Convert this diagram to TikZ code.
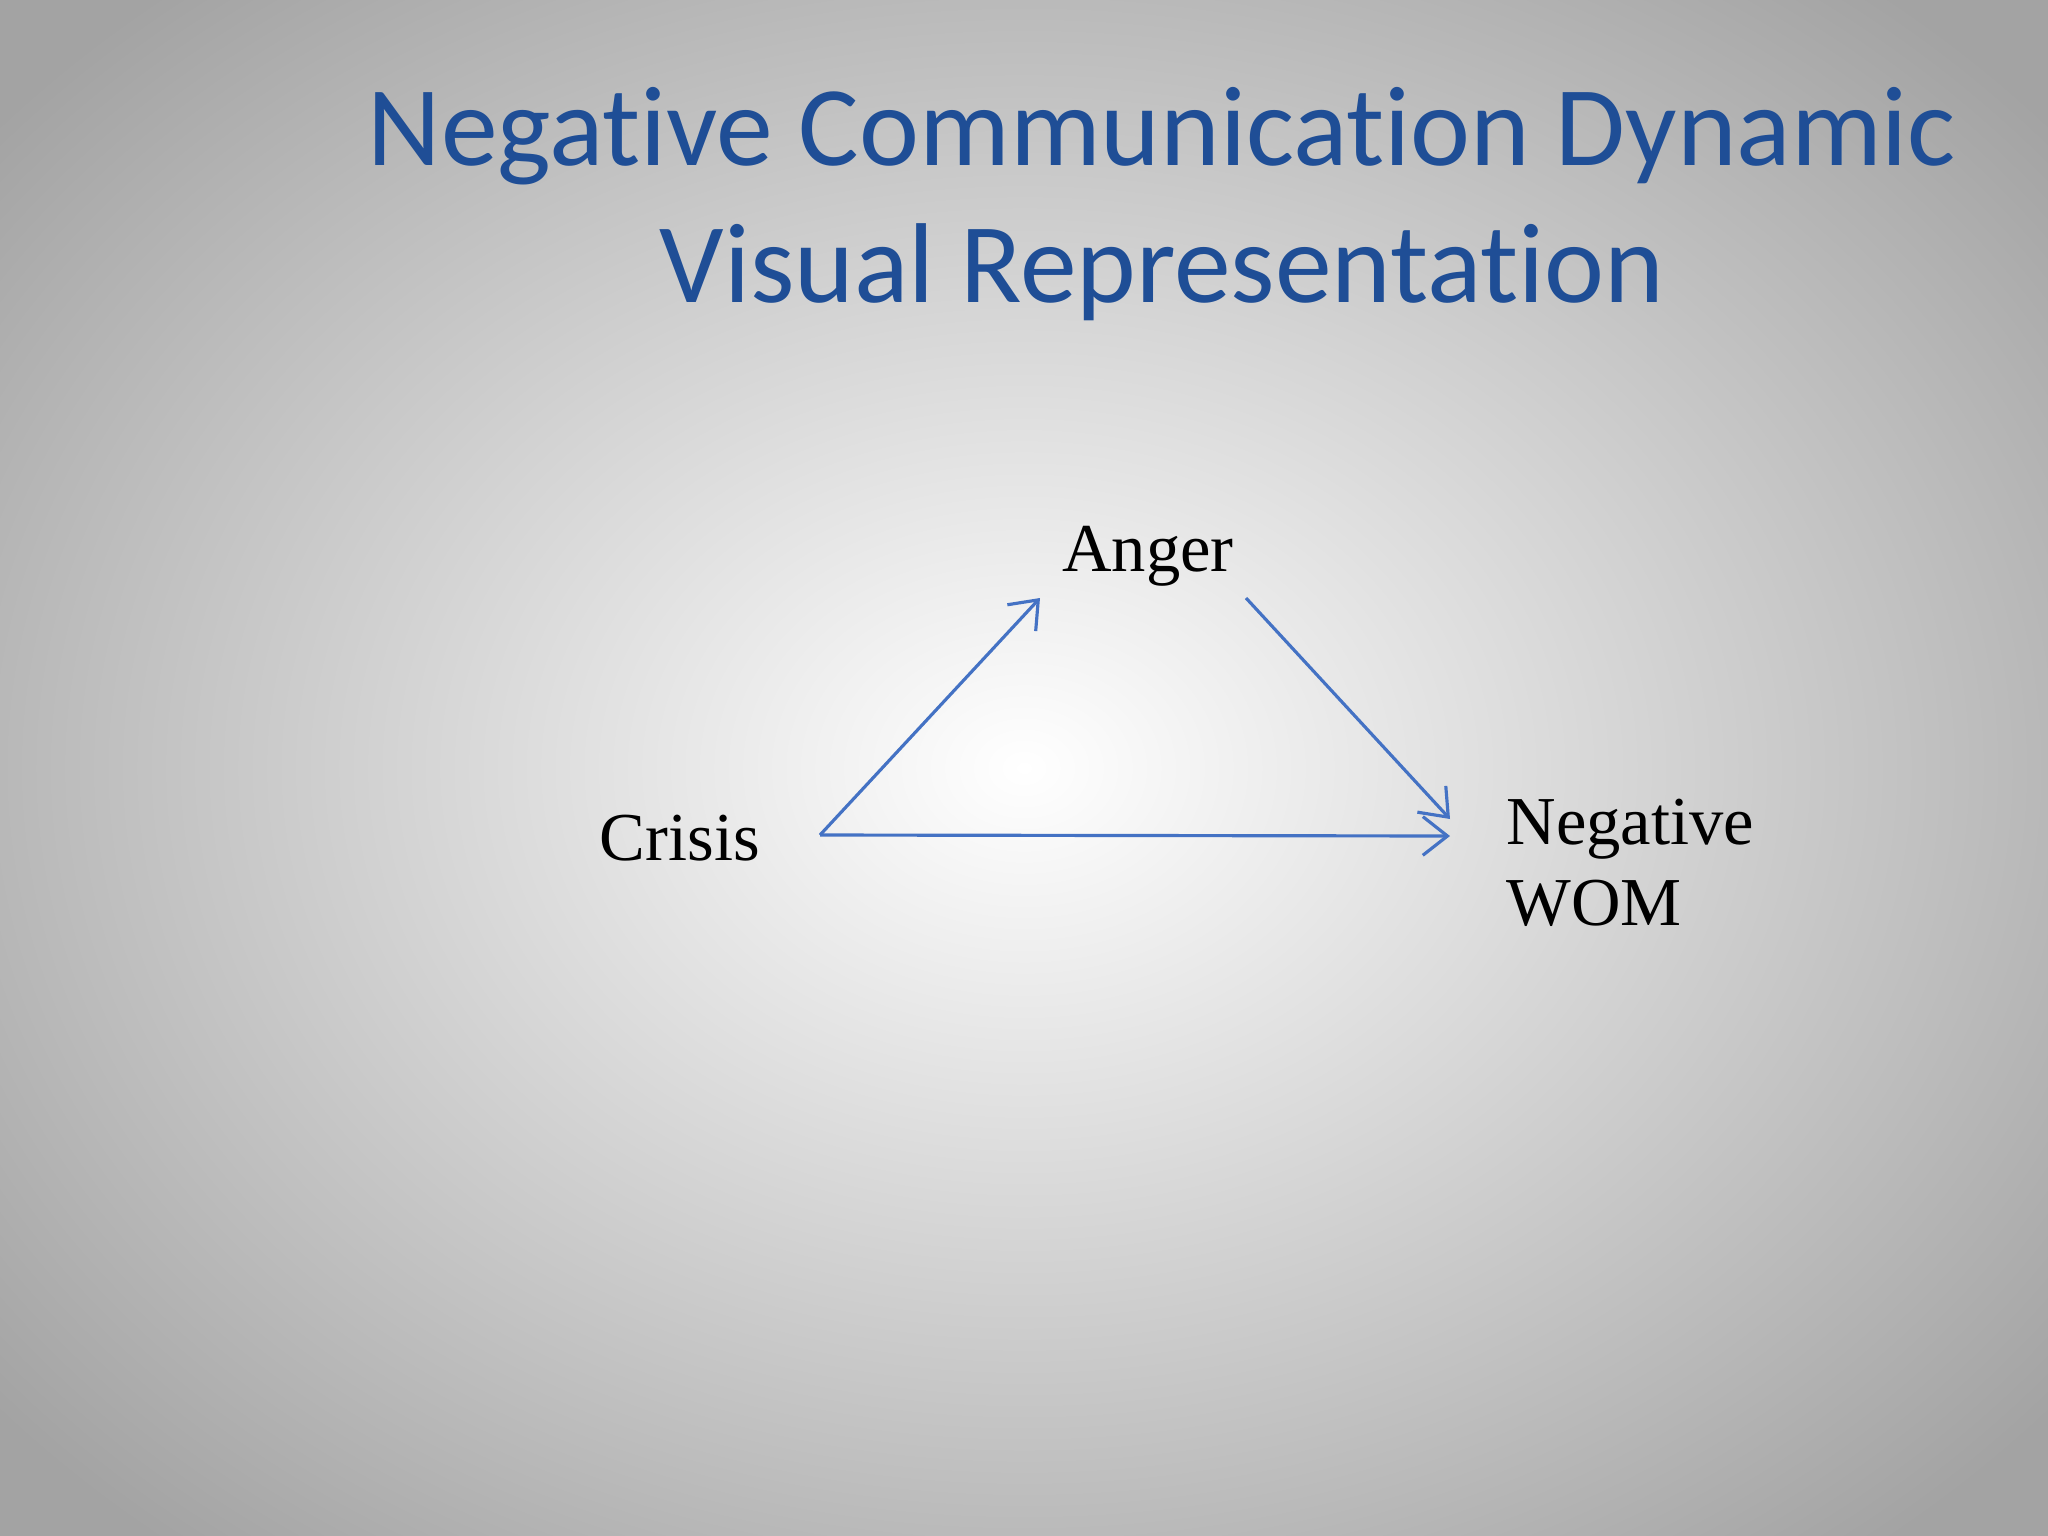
\documentclass[tikz,border=0pt]{standalone}
\usepackage{fontspec}
\setmainfont{Liberation Serif}
\newfontfamily\titlefont[RawFeature=-liga]{Carlito}
\usetikzlibrary{arrows.meta}
\definecolor{titleblue}{RGB}{31,78,150}
\definecolor{arrowblue}{RGB}{68,114,196}
\tikzset{
  lbl/.style={font=\fontsize{19.5}{23}\selectfont, text=black, inner sep=0pt, align=left},
  conn/.style={draw=arrowblue, line width=0.9pt, -{Straight Barb[length=7pt,width=11pt]}}
}
\begin{document}
\begin{tikzpicture}[x=0.01cm,y=-0.01cm]
\useasboundingbox (0,0) rectangle (2048,1536);
\shade[outer color=black!36, inner color=white] (-300,-250) rectangle (2348,1786);
\node[font=\titlefont\fontsize{32.3}{39}\selectfont, text=titleblue, align=center] (title) at (1162,204) {Negative Communication Dynamic\\Visual Representation};
\node[lbl] (anger) at (1148,556) {Anger};
\node[lbl] (crisis) at (680,838) {Crisis};
\node[lbl, anchor=west] (wom) at (1506,863) {Negative\\WOM};
\coordinate (cs) at (820,835);
\coordinate (at) at (1040,598);
\coordinate (as) at (1246,598);
\coordinate (wt1) at (1450,819);
\coordinate (wt2) at (1450,836);
\draw[conn] (cs) -- (at);
\draw[conn] (as) -- (wt1);
\draw[conn] (cs) -- (wt2);
\end{tikzpicture}
\end{document}
